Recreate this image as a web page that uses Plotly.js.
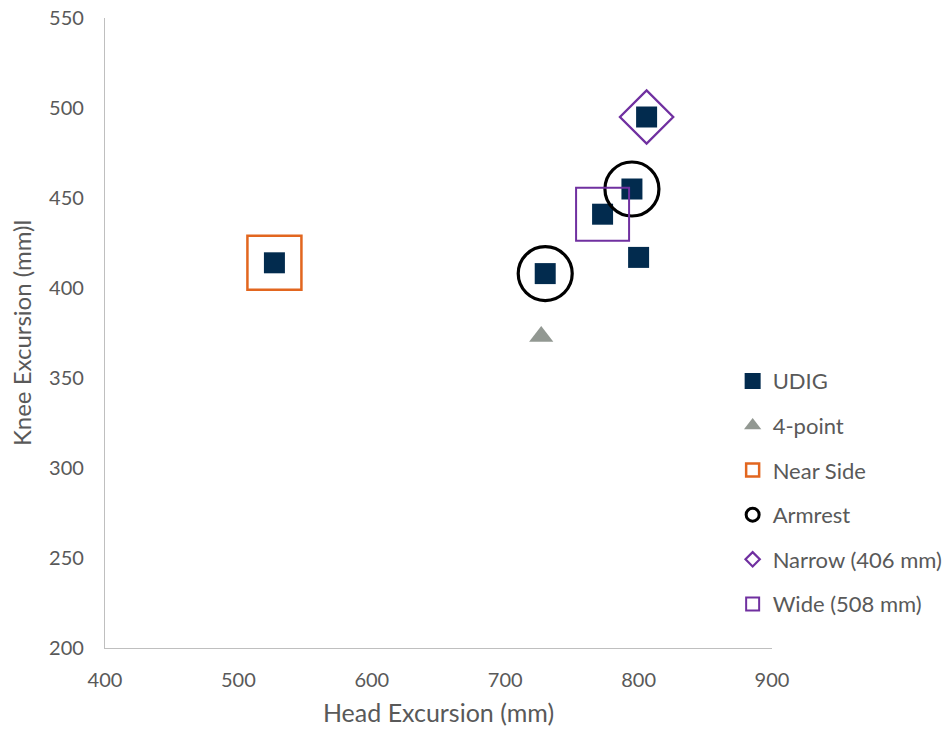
<!DOCTYPE html>
<html>
<head>
<meta charset="utf-8">
<script src="https://cdn.plot.ly/plotly-3.0.1.min.js"></script>
<style>html,body{margin:0;padding:0;background:#fff}#chart{width:948px;height:732px}</style>
</head>
<body>
<div id="chart"></div>
<script>
// Data
const udigX = [527, 730, 773, 795, 800, 806];
const udigY = [414, 408, 441, 455, 417, 495];
const fourPointX = [727];
const fourPointY = [373];
const nearSideX = [527];
const nearSideY = [414];
const armrestX = [730, 795];
const armrestY = [408, 455];
const narrowX = [806];
const narrowY = [495];
const wideX = [773];
const wideY = [441];
const seriesNames = ['UDIG', '4-point', 'Near Side', 'Armrest', 'Narrow (406 mm)', 'Wide (508 mm)'];
const xTicks = [400, 500, 600, 700, 800, 900];
const yTicks = [200, 250, 300, 350, 400, 450, 500, 550];

const FONT = 'Lato, "Open Sans", sans-serif';
const TXT = '#595959';

// style per series: [symbol, plot size, legend size, color, line width, legend line width]
const styles = [
  ['square', 21, 16, '#022B4E', 0, 0],
  ['triangle-up', 21, 15, '#929892', 0, 0],
  ['square-open', 54, 13, '#E2661F', 2.5, 2.5],
  ['circle-open', 54, 13, '#000000', 3.2, 3],
  ['diamond-open', 41, 11, '#7030A0', 2.3, 2.2],
  ['square-open', 53, 13, '#7030A0', 2, 2]
];
const xs = [udigX, fourPointX, nearSideX, armrestX, narrowX, wideX];
const ys = [udigY, fourPointY, nearSideY, armrestY, narrowY, wideY];

const traces = [];
seriesNames.forEach((n, i) => {
  const s = styles[i];
  traces.push({name: n, x: xs[i], y: ys[i], type: 'scatter', mode: 'markers',
    showlegend: false, legendgroup: 'g' + i, hoverinfo: 'x+y+name',
    marker: {symbol: s[0], size: s[1], color: s[3], line: {width: s[4], color: s[3]}}});
});
// legend entries (same series, with legend-size markers)
seriesNames.forEach((n, i) => {
  const s = styles[i];
  traces.push({name: n, x: [null], y: [null], type: 'scatter', mode: 'markers',
    showlegend: true, legendgroup: 'g' + i,
    marker: {symbol: s[0], size: s[2], color: s[3], line: {width: s[5], color: s[3]}}});
});

const layout = {
  width: 948, height: 732,
  margin: {l: 105, r: 176, t: 18, b: 84, autoexpand: false},
  paper_bgcolor: '#fff', plot_bgcolor: '#fff',
  font: {family: FONT, color: TXT, size: 20},
  showlegend: true,
  legend: {x: 0.941, xanchor: 'left', y: 0.457, yanchor: 'top',
           font: {family: FONT, size: 22, color: TXT},
           traceorder: 'grouped', tracegroupgap: 13, bgcolor: 'rgba(0,0,0,0)',
           itemwidth: 30},
  xaxis: {range: [400, 900], tickvals: xTicks, ticktext: xTicks.map(String),
          showgrid: false, zeroline: false, showline: true, linecolor: '#BFBFBF', linewidth: 1.3,
          ticks: '', ticklen: 0, ticklabelstandoff: 14, tickfont: {family: FONT, size: 20, color: TXT},
          title: {text: 'Head Excursion (mm)', font: {family: FONT, size: 25, color: TXT}, standoff: 14}},
  yaxis: {range: [200, 550], tickvals: yTicks, ticktext: yTicks.map(String),
          showgrid: false, zeroline: false, showline: true, linecolor: '#BFBFBF', linewidth: 1.3,
          ticks: '', ticklen: 0, ticklabelstandoff: 16, tickfont: {family: FONT, size: 20, color: TXT},
          title: {text: 'Knee Excursion (mm)l', font: {family: FONT, size: 24, color: TXT}, standoff: 10}}
};

Plotly.newPlot('chart', traces, layout, {displayModeBar: false, responsive: false});
</script>
</body>
</html>
